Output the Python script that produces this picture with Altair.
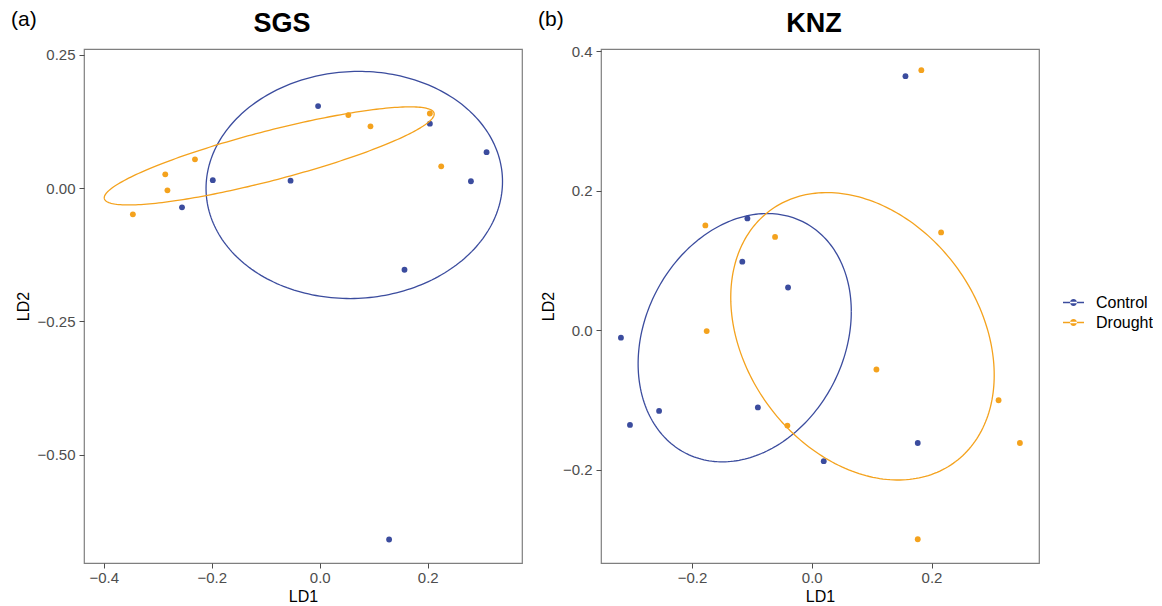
import numpy as np
import pandas as pd
import altair as alt

FONT = "Liberation Sans"
BLUE = "#3B4C9E"
ORANGE = "#F4A21D"

# ---- point data ----
sgs_control_x = [-0.003, 0.204, 0.309, -0.198, -0.054, 0.280, -0.255, 0.157, 0.1285]
sgs_control_y = [0.154, 0.121, 0.0675, 0.015, 0.014, 0.013, -0.036, -0.153, -0.659]
sgs_drought_x = [0.204, 0.053, 0.094, -0.231, -0.286, -0.282, -0.346, 0.225]
sgs_drought_y = [0.140, 0.137, 0.116, 0.054, 0.026, -0.004, -0.049, 0.041]

knz_control_x = [0.1565, -0.1075, -0.116, -0.0396, -0.3187, -0.255, -0.3036, -0.090, 0.020, 0.177]
knz_control_y = [0.364, 0.160, 0.098, 0.061, -0.011, -0.116, -0.136, -0.111, -0.188, -0.162]
knz_drought_x = [0.183, -0.1777, -0.0613, 0.216, -0.1755, 0.108, 0.312, -0.0407, 0.3476, 0.177]
knz_drought_y = [0.3725, 0.150, 0.1335, 0.140, -0.0015, -0.0566, -0.1007, -0.137, -0.162, -0.300]

# ---- ellipse parameters (centre, half extents, phase cosine) ----
ell_site = ["SGS", "SGS", "KNZ", "KNZ"]
ell_group = ["Control", "Drought", "Control", "Drought"]
ell_cx = [0.064, -0.0935, -0.112, 0.0847]
ell_cy = [0.006, 0.0605, -0.011, -0.009]
ell_ax = [0.2745, 0.3055, 0.178, 0.220]
ell_ay = [0.213, 0.092, 0.178, 0.206]
ell_cos = [0.03, 0.853, 0.21, -0.27]

groups = ["Control", "Drought"]
colors = [BLUE, ORANGE]

# axis settings
sgs_xdomain = [-0.4365, 0.3746]
sgs_ydomain = [-0.703, 0.261]
sgs_xticks = [-0.4, -0.2, 0.0, 0.2]
sgs_yticks = [-0.5, -0.25, 0.0, 0.25]
knz_xdomain = [-0.352, 0.3795]
knz_ydomain = [-0.334, 0.4029]
knz_xticks = [-0.2, 0.0, 0.2]
knz_yticks = [-0.2, 0.0, 0.2, 0.4]


def points_df(cx, cy, dx, dy):
    return pd.DataFrame({
        "LD1": list(cx) + list(dx),
        "LD2": list(cy) + list(dy),
        "Treatment": ["Control"] * len(cx) + ["Drought"] * len(dx),
    })


def ellipse_df(site):
    rows = []
    t = np.linspace(0, 2 * np.pi, 241)
    for s, g, cx, cy, ax, ay, c in zip(ell_site, ell_group, ell_cx, ell_cy, ell_ax, ell_ay, ell_cos):
        if s != site:
            continue
        d = np.arccos(c)
        xs = cx + ax * np.cos(t)
        ys = cy + ay * np.cos(t - d)
        for i, (xx, yy) in enumerate(zip(xs, ys)):
            rows.append({"LD1": xx, "LD2": yy, "Treatment": g, "i": i})
    return pd.DataFrame(rows)


LEG_PATH = ("M-1,-0.065L1,-0.065L1,0.065L-1,0.065Z "
            "M-0.33,0A0.33,0.33 0 1,0 0.33,0A0.33,0.33 0 1,0 -0.33,0Z")

color_scale = alt.Scale(domain=groups, range=colors)

W, H = 438, 514


def panel(pts, ell, xdom, ydom, xticks, yticks, yfmt, title, tag, title_x, tag_x):
    x = alt.X("LD1:Q", scale=alt.Scale(domain=xdom, nice=False, zero=False),
              axis=alt.Axis(values=xticks, format=".1f", title="LD1"))
    y = alt.Y("LD2:Q", scale=alt.Scale(domain=ydom, nice=False, zero=False),
              axis=alt.Axis(values=yticks, format=yfmt, title="LD2"))
    ell_layer = alt.Chart(ell).mark_line(strokeWidth=1.3, clip=True).encode(
        x=x, y=y,
        color=alt.Color("Treatment:N", scale=color_scale, legend=None),
        detail="Treatment:N",
        order=alt.Order("i:Q"),
    )
    pt_layer = alt.Chart(pts).mark_circle(size=34, opacity=1).encode(
        x=x, y=y,
        color=alt.Color("Treatment:N", scale=color_scale,
                        legend=alt.Legend(title=None, orient="none", legendX=979, legendY=243,
                                          symbolType=LEG_PATH, symbolSize=441,
                                          symbolStrokeWidth=0, labelFontSize=16,
                                          labelFont=FONT, labelColor="black",
                                          labelOffset=12, rowPadding=1, padding=0)),
    )
    tag_layer = alt.Chart(pd.DataFrame({"t": [tag]})).mark_text(
        font=FONT, fontSize=21, align="left", baseline="alphabetic", color="black"
    ).encode(x=alt.value(tag_x), y=alt.value(-23), text="t:N")
    title_layer = alt.Chart(pd.DataFrame({"t": [title]})).mark_text(
        font=FONT, fontSize=27, fontWeight="bold", align="center", baseline="alphabetic",
        color="black"
    ).encode(x=alt.value(title_x), y=alt.value(-17), text="t:N")
    return alt.layer(pt_layer, ell_layer, tag_layer, title_layer).properties(width=W, height=H)


sgs = panel(points_df(sgs_control_x, sgs_control_y, sgs_drought_x, sgs_drought_y),
            ellipse_df("SGS"), sgs_xdomain, sgs_ydomain, sgs_xticks, sgs_yticks, ".2f",
            "SGS", "(a)", 198, -73)
knz = panel(points_df(knz_control_x, knz_control_y, knz_drought_x, knz_drought_y),
            ellipse_df("KNZ"), knz_xdomain, knz_ydomain, knz_xticks, knz_yticks, ".1f",
            "KNZ", "(b)", 213, -63)

chart = alt.hconcat(sgs, knz, spacing=14).properties(
    padding={"left": 10, "top": 8, "right": 0, "bottom": 1},
    background="white",
).configure_view(
    stroke="#7f7f7f", strokeWidth=1.2
).configure_axis(
    grid=False, domain=False,
    tickColor="#4d4d4d", tickSize=5,
    labelColor="#4d4d4d", labelFont=FONT, labelFontSize=15,
    titleFont=FONT, titleFontSize=16, titleFontWeight="normal", titleColor="black",
).configure_axisX(labelPadding=2, titlePadding=3).configure_axisY(labelPadding=4, titlePadding=6)

chart.save("out.html", embed_options={"renderer": "svg", "actions": False})
